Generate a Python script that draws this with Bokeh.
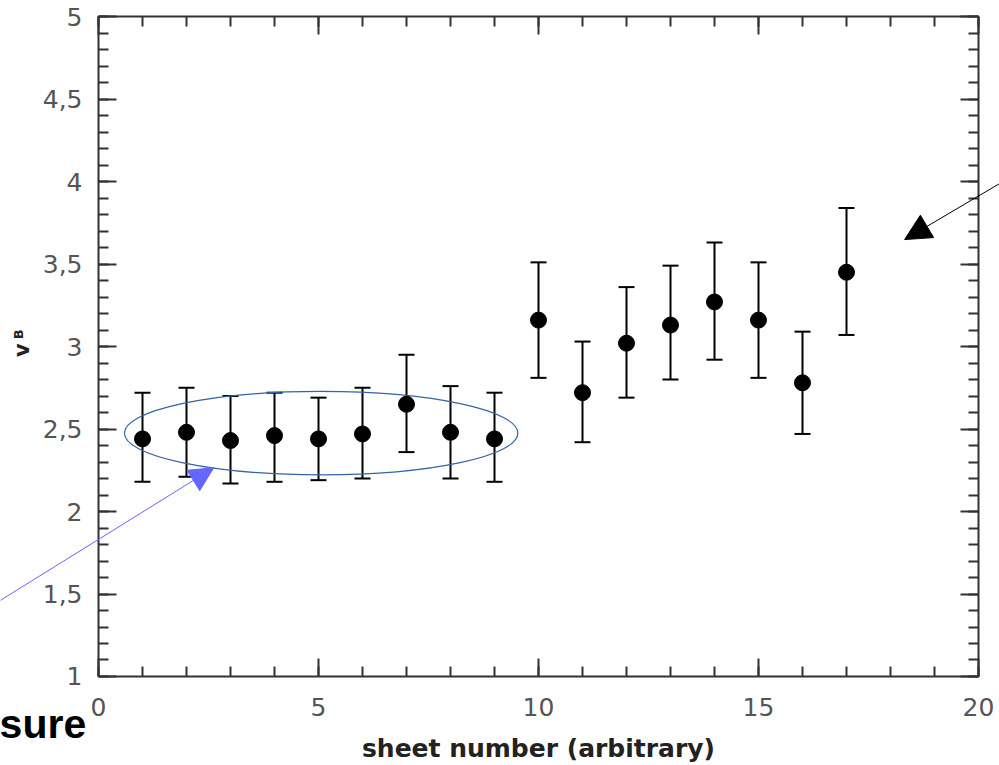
from bokeh.plotting import figure
from bokeh.models import (ColumnDataSource, Whisker, TeeHead, Arrow, NormalHead, Label,
                          LinearAxis, FixedTicker, Range1d)
from bokeh.embed import file_html
from bokeh.resources import INLINE

# ---- data ----
sheet = [1, 2, 3, 4, 5, 6, 7, 8, 9, 10, 11, 12, 13, 14, 15, 16, 17]
v_b = [2.44, 2.48, 2.43, 2.46, 2.44, 2.47, 2.65, 2.48, 2.44,
       3.16, 2.72, 3.02, 3.13, 3.27, 3.16, 2.78, 3.45]
v_upper = [2.72, 2.75, 2.70, 2.72, 2.69, 2.75, 2.95, 2.76, 2.72,
           3.51, 3.03, 3.36, 3.49, 3.63, 3.51, 3.09, 3.84]
v_lower = [2.18, 2.21, 2.17, 2.18, 2.19, 2.20, 2.36, 2.20, 2.18,
           2.81, 2.42, 2.69, 2.80, 2.92, 2.81, 2.47, 3.07]

x_bounds = (0, 20)
y_bounds = (1, 5)
x_major_ticks = [0, 5, 10, 15, 20]
x_minor_ticks = [0, 1, 2, 3, 4, 5, 6, 7, 8, 9, 10, 11, 12, 13, 14, 15, 16, 17, 18, 19, 20]
y_major_ticks = [1, 1.5, 2, 2.5, 3, 3.5, 4, 4.5, 5]
y_tick_labels = ["1", "1,5", "2", "2,5", "3", "3,5", "4", "4,5", "5"]
y_minor_ticks = [1.0, 1.1, 1.2, 1.3, 1.4, 1.5, 1.6, 1.7, 1.8, 1.9,
                 2.0, 2.1, 2.2, 2.3, 2.4, 2.5, 2.6, 2.7, 2.8, 2.9,
                 3.0, 3.1, 3.2, 3.3, 3.4, 3.5, 3.6, 3.7, 3.8, 3.9,
                 4.0, 4.1, 4.2, 4.3, 4.4, 4.5, 4.6, 4.7, 4.8, 4.9, 5.0]

x_title = "sheet number (arbitrary)"
y_title_main = "v"
y_title_sub = "B"
side_text = "sure"

# annotation geometry (data units)
ellipse_x = [5.06]
ellipse_y = [2.475]
ellipse_w = [8.94]
ellipse_h = [0.505]
blue_arrow = [-2.6, 1.40, 2.62, 2.265]     # x_start, y_start, x_end, y_end
black_arrow = [20.75, 4.03, 18.32, 3.648]

src = ColumnDataSource(dict(x=sheet, y=v_b, upper=v_upper, lower=v_lower))

# the visible canvas spans a little more than the axis box, so that
# the notes around the box can be drawn; the axes are bounded to the box
p = figure(width=999, height=765,
           x_range=Range1d(-2.2273, 20.4773), y_range=Range1d(0.4606, 5.0970),
           output_backend="svg", toolbar_location=None, tools="",
           x_axis_location=None, y_axis_location=None,
           min_border=0, min_border_left=0, min_border_right=0,
           min_border_top=0, min_border_bottom=0)
p.xgrid.visible = False
p.ygrid.visible = False
p.outline_line_color = None
p.background_fill_color = "white"
p.border_fill_color = "white"

xt = FixedTicker(ticks=x_major_ticks, minor_ticks=x_minor_ticks)
yt = FixedTicker(ticks=y_major_ticks, minor_ticks=y_minor_ticks)
label_map = {t: l for t, l in zip(y_major_ticks, y_tick_labels)}

bottom = LinearAxis(ticker=xt, bounds=x_bounds, fixed_location=y_bounds[0])
top = LinearAxis(ticker=xt, bounds=x_bounds, fixed_location=y_bounds[1])
left = LinearAxis(ticker=yt, bounds=y_bounds, fixed_location=x_bounds[0],
                  major_label_overrides=label_map)
right = LinearAxis(ticker=yt, bounds=y_bounds, fixed_location=x_bounds[1])
p.add_layout(bottom, "below")
p.add_layout(top, "above")
p.add_layout(left, "left")
p.add_layout(right, "right")

for ax in [bottom, top, left, right]:
    ax.axis_line_color = "#333333"
    ax.axis_line_width = 2
    ax.major_tick_line_color = "#333333"
    ax.major_tick_line_width = 2
    ax.minor_tick_line_color = "#333333"
    ax.minor_tick_line_width = 2
    ax.major_tick_in = 18
    ax.major_tick_out = 0
    ax.minor_tick_in = 10
    ax.minor_tick_out = 0
    ax.major_label_text_font = "DejaVu Sans"
    ax.major_label_text_font_size = "25px"
    ax.major_label_text_color = "#555555"

left.major_label_standoff = 16
bottom.major_label_standoff = 22
for ax in [top, right]:
    ax.major_label_text_color = None
    ax.major_label_text_font_size = "1px"
    ax.major_label_standoff = 0

# highlight ellipse
p.ellipse(x=ellipse_x, y=ellipse_y, width=ellipse_w, height=ellipse_h,
          fill_color=None, line_color="#3465a4", line_width=1.2)

# error bars
p.add_layout(Whisker(source=src, base="x", upper="upper", lower="lower",
                     line_color="black", line_width=2,
                     upper_head=TeeHead(size=16, line_color="black", line_width=2),
                     lower_head=TeeHead(size=16, line_color="black", line_width=2)))
p.scatter("x", "y", source=src, size=16, color="black")

# arrows
p.add_layout(Arrow(x_start=blue_arrow[0], y_start=blue_arrow[1],
                   x_end=blue_arrow[2], y_end=blue_arrow[3],
                   line_color="#6666ff", line_width=1,
                   end=NormalHead(size=24, fill_color="#6666ff", line_color="#6666ff")))
p.add_layout(Arrow(x_start=black_arrow[0], y_start=black_arrow[1],
                   x_end=black_arrow[2], y_end=black_arrow[3],
                   line_color="black", line_width=1,
                   end=NormalHead(size=26, fill_color="black", line_color="black")))

# titles and note text
p.add_layout(Label(x=10, y=0.566, text=x_title, text_font="DejaVu Sans",
                   text_font_style="bold", text_font_size="25px", text_color="#222222",
                   text_align="center", text_baseline="middle"))
p.add_layout(Label(x=-1.75, y=2.978, text=y_title_main, angle=1.5708,
                   text_font="DejaVu Sans", text_font_style="bold",
                   text_font_size="21px", text_color="#222222",
                   text_align="center", text_baseline="middle"))
p.add_layout(Label(x=-1.82, y=3.074, text=y_title_sub, angle=1.5708,
                   text_font="DejaVu Sans", text_font_style="bold",
                   text_font_size="13px", text_color="#222222",
                   text_align="center", text_baseline="middle"))
p.add_layout(Label(x=-0.28, y=0.712, text=side_text, text_font="Liberation Sans",
                   text_font_style="bold", text_font_size="41px", text_color="black",
                   text_align="right", text_baseline="middle"))

open("out.html", "w").write(file_html(p, INLINE))
